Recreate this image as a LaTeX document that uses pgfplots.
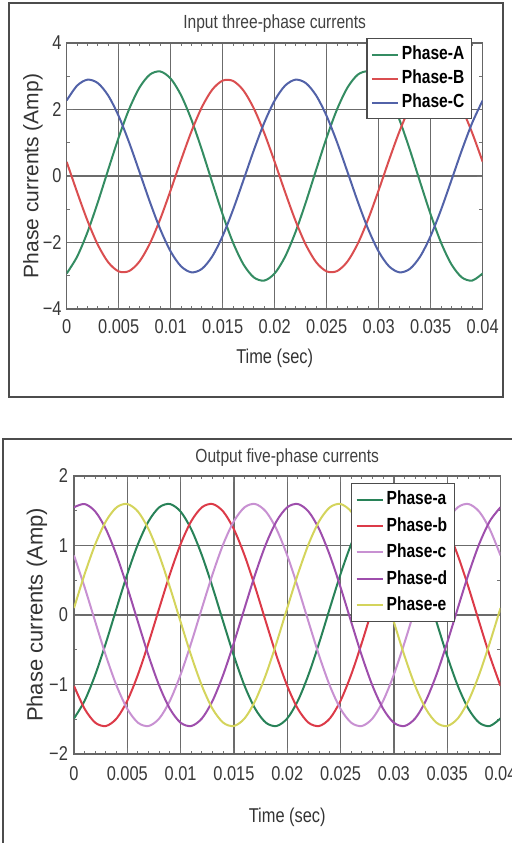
\documentclass[border=0pt]{standalone}
\usepackage{fontspec}
\setmainfont[FakeStretch=0.82]{Liberation Sans}
\newfontfamily\ylfont{Liberation Sans}
\usepackage{pgfplots}
\usepackage{pgfplotstable}
\pgfplotsset{compat=1.18}

\definecolor{cA}{RGB}{52,140,98}
\definecolor{cB}{RGB}{218,78,80}
\definecolor{cC}{RGB}{82,98,168}
\definecolor{ca}{RGB}{40,130,88}
\definecolor{cb}{RGB}{220,58,72}
\definecolor{cc}{RGB}{200,145,210}
\definecolor{cd}{RGB}{158,78,172}
\definecolor{ce}{RGB}{212,212,92}

\pgfplotstableread{
t A B C
0.000 -2.929 0.424 2.273
0.001 -2.427 -0.484 2.718
0.002 -1.688 -1.344 2.897
0.003 -0.783 -2.072 2.793
0.004 0.198 -2.598 2.415
0.005 1.160 -2.869 1.801
0.006 2.008 -2.859 1.011
0.007 2.660 -2.570 0.122
0.008 3.051 -2.029 -0.780
0.009 3.144 -1.289 -1.605
0.010 2.929 -0.424 -2.273
0.011 2.427 0.484 -2.718
0.012 1.688 1.344 -2.897
0.013 0.783 2.072 -2.793
0.014 -0.198 2.598 -2.415
0.015 -1.160 2.869 -1.801
0.016 -2.008 2.859 -1.011
0.017 -2.660 2.570 -0.122
0.018 -3.051 2.029 0.780
0.019 -3.144 1.289 1.605
0.020 -2.929 0.424 2.273
0.021 -2.427 -0.484 2.718
0.022 -1.688 -1.344 2.897
0.023 -0.783 -2.072 2.793
0.024 0.198 -2.598 2.415
0.025 1.160 -2.869 1.801
0.026 2.008 -2.859 1.011
0.027 2.660 -2.570 0.122
0.028 3.051 -2.029 -0.780
0.029 3.144 -1.289 -1.605
0.030 2.929 -0.424 -2.273
0.031 2.427 0.484 -2.718
0.032 1.688 1.344 -2.897
0.033 0.783 2.072 -2.793
0.034 -0.198 2.598 -2.415
0.035 -1.160 2.869 -1.801
0.036 -2.008 2.859 -1.011
0.037 -2.660 2.570 -0.122
0.038 -3.051 2.029 0.780
0.039 -3.144 1.289 1.605
0.040 -2.929 0.424 2.273
}\threephase

\pgfplotstableread{
t a b c d e
0.000 -1.488 -1.020 0.857 1.550 0.100
0.001 -1.233 -1.351 0.398 1.597 0.589
0.002 -0.857 -1.550 -0.100 1.488 1.020
0.003 -0.398 -1.597 -0.589 1.233 1.351
0.004 0.100 -1.488 -1.020 0.857 1.550
0.005 0.589 -1.233 -1.351 0.398 1.597
0.006 1.020 -0.857 -1.550 -0.100 1.488
0.007 1.351 -0.398 -1.597 -0.589 1.233
0.008 1.550 0.100 -1.488 -1.020 0.857
0.009 1.597 0.589 -1.233 -1.351 0.398
0.010 1.488 1.020 -0.857 -1.550 -0.100
0.011 1.233 1.351 -0.398 -1.597 -0.589
0.012 0.857 1.550 0.100 -1.488 -1.020
0.013 0.398 1.597 0.589 -1.233 -1.351
0.014 -0.100 1.488 1.020 -0.857 -1.550
0.015 -0.589 1.233 1.351 -0.398 -1.597
0.016 -1.020 0.857 1.550 0.100 -1.488
0.017 -1.351 0.398 1.597 0.589 -1.233
0.018 -1.550 -0.100 1.488 1.020 -0.857
0.019 -1.597 -0.589 1.233 1.351 -0.398
0.020 -1.488 -1.020 0.857 1.550 0.100
0.021 -1.233 -1.351 0.398 1.597 0.589
0.022 -0.857 -1.550 -0.100 1.488 1.020
0.023 -0.398 -1.597 -0.589 1.233 1.351
0.024 0.100 -1.488 -1.020 0.857 1.550
0.025 0.589 -1.233 -1.351 0.398 1.597
0.026 1.020 -0.857 -1.550 -0.100 1.488
0.027 1.351 -0.398 -1.597 -0.589 1.233
0.028 1.550 0.100 -1.488 -1.020 0.857
0.029 1.597 0.589 -1.233 -1.351 0.398
0.030 1.488 1.020 -0.857 -1.550 -0.100
0.031 1.233 1.351 -0.398 -1.597 -0.589
0.032 0.857 1.550 0.100 -1.488 -1.020
0.033 0.398 1.597 0.589 -1.233 -1.351
0.034 -0.100 1.488 1.020 -0.857 -1.550
0.035 -0.589 1.233 1.351 -0.398 -1.597
0.036 -1.020 0.857 1.550 0.100 -1.488
0.037 -1.351 0.398 1.597 0.589 -1.233
0.038 -1.550 -0.100 1.488 1.020 -0.857
0.039 -1.597 -0.589 1.233 1.351 -0.398
0.040 -1.488 -1.020 0.857 1.550 0.100
}\fivephase

\pgfplotsset{
  panel/.style={
    anchor=south west, scale only axis,
    xmin=0, xmax=0.04, scaled x ticks=false, scaled y ticks=false,
    xtick={0,0.005,0.01,0.015,0.02,0.025,0.03,0.035,0.04},
    xticklabels={0,0.005,0.01,0.015,0.02,0.025,0.03,0.035,0.04},
    minor x tick num=4, minor y tick num=1,
    tick align=inside, major tick length=3pt, minor tick length=1.6pt,
    tick style={black!55, line width=0.5pt},
    axis line style={black!60, line width=0.7pt},
    grid=major, major grid style={black!58, line width=0.65pt},
    ticklabel style={font=\fontsize{10}{12}\selectfont, text=black!78},
    xticklabel style={anchor=center},
    yticklabel style={anchor=east, inner xsep=0pt},
    xlabel={Time (sec)}, ylabel={Phase currents (Amp)},
    legend cell align=left,
    legend image code/.code={\draw[##1, line width=1pt] (0pt,0pt) -- (13pt,0pt);},
    every axis plot/.append style={line width=1pt, smooth, no markers},
  },
  lstyle/.style={
    draw=black!70, line width=0.6pt, fill=white,
    font=\bfseries\fontsize{9.5}{11}\selectfont,
    inner xsep=2pt, inner ysep=2pt,
    nodes={inner sep=1.5pt, text height=7.2pt, text depth=1.8pt},
  },
}

\begin{document}
\begin{tikzpicture}
\useasboundingbox (0,0) rectangle (255.5pt,421.5pt);
% panel frames
\draw[black!70, line width=1pt] (4.5pt,223pt) rectangle (251.5pt,420pt);
\draw[black!70, line width=1pt] (1.5pt,-5pt) -- (1.5pt,202pt) -- (262pt,202pt);

\begin{axis}[panel,
  at={(33.35pt,267pt)}, width=208pt, height=133pt,
  ymin=-4, ymax=4, ytick={-4,-2,0,2,4}, yticklabels={−4,−2,0,2,4},
  xticklabel style={yshift=-8.85pt},
  yticklabel style={xshift=-2.4pt},
  title={Input three-phase currents},
  every axis title/.style={at={(axis description cs:0.5,1.0714)}, anchor=center,
    font=\fontsize{9.5}{11}\selectfont, text=black!75},
  every axis x label/.style={at={(axis description cs:0.5,-0.184)}, anchor=center,
    font=\fontsize{10}{12}\selectfont, text=black!80},
  every axis y label/.style={at={(axis description cs:-0.081,0.5)}, anchor=center, rotate=90,
    font=\ylfont\fontsize{10.5}{12}\selectfont, text=black!80},
  legend style={lstyle, row sep=0pt, at={(axis description cs:0.974,1.019)}, anchor=north east},
]
\addplot[cA] table[x=t, y=A] {\threephase};
\addplot[cB] table[x=t, y=B] {\threephase};
\addplot[cC] table[x=t, y=C] {\threephase};
\legend{Phase-A, Phase-B, Phase-C}
\end{axis}

\begin{axis}[panel,
  at={(37pt,44.5pt)}, width=213.25pt, height=139pt,
  ymin=-2, ymax=2, ytick={-2,-1,0,1,2}, yticklabels={−2,−1,0,1,2},
  xticklabel style={yshift=-9.85pt},
  yticklabel style={xshift=-2.85pt},
  title={Output five-phase currents},
  every axis title/.style={at={(axis description cs:0.5,1.0647)}, anchor=center,
    font=\fontsize{9.5}{11}\selectfont, text=black!75},
  every axis x label/.style={at={(axis description cs:0.5,-0.2266)}, anchor=center,
    font=\fontsize{10}{12}\selectfont, text=black!80},
  every axis y label/.style={at={(axis description cs:-0.0868,0.5)}, anchor=center, rotate=90,
    font=\ylfont\fontsize{11}{13}\selectfont, text=black!80},
  legend style={lstyle, row sep=1.2pt, at={(axis description cs:0.893,0.975)}, anchor=north east},
]
\addplot[ca] table[x=t, y=a] {\fivephase};
\addplot[cb] table[x=t, y=b] {\fivephase};
\addplot[cc] table[x=t, y=c] {\fivephase};
\addplot[cd] table[x=t, y=d] {\fivephase};
\addplot[ce] table[x=t, y=e] {\fivephase};
\legend{Phase-a, Phase-b, Phase-c, Phase-d, Phase-e}
\end{axis}
\end{tikzpicture}
\end{document}
